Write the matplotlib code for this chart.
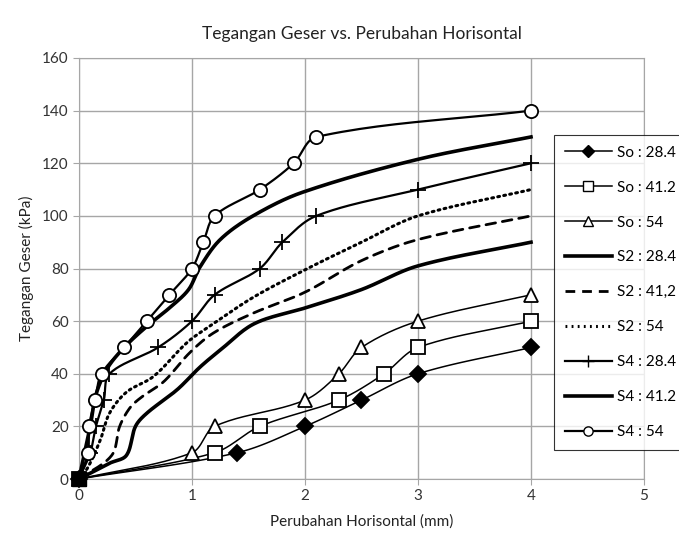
import matplotlib
matplotlib.use("Agg")
import matplotlib.pyplot as plt
import numpy as np

plt.rcParams['font.family'] = ['Lato', 'DejaVu Sans']

# --- data (x in mm, y in kPa) ---
so_284_x = [0, 1.4, 2.0, 2.5, 3.0, 4.0]
so_284_y = [0, 10, 20, 30, 40, 50]

so_412_x = [0, 1.2, 1.6, 2.3, 2.7, 3.0, 4.0]
so_412_y = [0, 10, 20, 30, 40, 50, 60]

so_54_x = [0, 1.0, 1.2, 2.0, 2.3, 2.5, 3.0, 4.0]
so_54_y = [0, 10, 20, 30, 40, 50, 60, 70]

s2_284_x = [0, 0.27, 0.42, 0.5, 0.6, 0.87, 1.07, 1.25, 1.55, 2.0, 2.5, 3.0, 4.0]
s2_284_y = [0, 6, 9, 20, 25, 34, 42.5, 49, 59, 65, 72, 81, 90]

s2_412_x = [0, 0.29, 0.36, 0.45, 0.55, 0.75, 0.98, 1.19, 1.54, 2.0, 2.5, 3.0, 4.0]
s2_412_y = [0, 9, 20, 27, 31, 37, 48, 55.5, 63, 71, 83, 91, 100]

s2_54_x = [0, 0.08, 0.19, 0.27, 0.42, 0.66, 0.96, 1.19, 1.54, 2.0, 2.5, 3.0, 4.0]
s2_54_y = [0, 4.5, 15, 25, 33, 39, 52, 59, 69, 79.5, 90, 100, 110]

s4_284_x = [0, 0.1, 0.15, 0.22, 0.27, 0.7, 1.0, 1.2, 1.6, 1.8, 2.1, 3.0, 4.0]
s4_284_y = [0, 10, 20, 30, 40, 50, 60, 70, 80, 90, 100, 110, 120]

s4_412_x = [0, 0.1, 0.15, 0.25, 0.4, 0.6, 0.8, 0.97, 1.07, 1.25, 1.54, 1.98, 3.0, 4.0]
s4_412_y = [0, 20, 32, 42, 50, 58, 65, 72, 80.5, 91, 100, 109, 121.5, 130]

s4_54_x = [0, 0.08, 0.09, 0.14, 0.2, 0.4, 0.6, 0.8, 1.0, 1.1, 1.2, 1.6, 1.9, 2.1, 4.0]
s4_54_y = [0, 10, 20, 30, 40, 50, 60, 70, 80, 90, 100, 110, 120, 130, 140]

x_ticks = [0, 1, 2, 3, 4, 5]
y_ticks = [0, 20, 40, 60, 80, 100, 120, 140, 160]


def smooth(x, y, n=24, sx=113.0, sy=2.63):
    # smoothed line through the points (Excel-like), tangents scaled by
    # segment length so short segments next to long ones don't loop
    p = np.column_stack([np.asarray(x, float) * sx, np.asarray(y, float) * sy])
    k = len(p)
    seg = np.linalg.norm(np.diff(p, axis=0), axis=1)
    out = []
    for i in range(k - 1):
        p1, p2 = p[i], p[i + 1]
        L = seg[i]
        if i > 0:
            m1 = (p2 - p[i - 1]) * L / (seg[i - 1] + L)
        else:
            m1 = p2 - p1
        if i < k - 2:
            m2 = (p[i + 2] - p1) * L / (L + seg[i + 1])
        else:
            m2 = p2 - p1
        t = np.linspace(0, 1, n, endpoint=False)[:, None]
        h00 = 2 * t**3 - 3 * t**2 + 1
        h10 = t**3 - 2 * t**2 + t
        h01 = -2 * t**3 + 3 * t**2
        h11 = t**3 - t**2
        out.append(h00 * p1 + h10 * m1 + h01 * p2 + h11 * m2)
    out.append(p[-1][None, :])
    out = np.vstack(out)
    return out[:, 0] / sx, out[:, 1] / sy


fig = plt.figure(figsize=(6.79, 5.42), dpi=100)
ax = fig.add_axes([0.1163, 0.1162, 0.8322, 0.7768])

series = [
    (so_284_x, so_284_y, 'So : 28.4', dict(lw=1.1, ls='-', marker='D', ms=8.5, mfc='black')),
    (so_412_x, so_412_y, 'So : 41.2', dict(lw=1.1, ls='-', marker='s', ms=9.5, mfc='white')),
    (so_54_x, so_54_y, 'So : 54', dict(lw=1.1, ls='-', marker='^', ms=10, mfc='white')),
    (s2_284_x, s2_284_y, 'S2 : 28.4', dict(lw=2.6, ls='-')),
    (s2_412_x, s2_412_y, 'S2 : 41,2', dict(lw=2.0, ls=(0, (3.5, 2.5)))),
    (s2_54_x, s2_54_y, 'S2 : 54', dict(lw=2.2, ls=(0, (0.6, 1.4)))),
    (s4_284_x, s4_284_y, 'S4 : 28.4', dict(lw=1.6, ls='-', marker='+', ms=12, mew=1.3)),
    (s4_412_x, s4_412_y, 'S4 : 41.2', dict(lw=2.6, ls='-')),
    (s4_54_x, s4_54_y, 'S4 : 54', dict(lw=1.6, ls='-', marker='o', ms=9.5, mfc='white')),
]

handles = []
for x, y, label, st in series:
    sx, sy = smooth(x, y)
    ax.plot(sx, sy, color='black', lw=st['lw'], ls=st['ls'], zorder=3,
            dash_capstyle='round' if st['ls'] != '-' else 'butt')
    mk = st.get('marker')
    if mk:
        ax.plot(x, y, ls='none', marker=mk, ms=st['ms'], mfc=st.get('mfc', 'black'),
                mec='black', mew=st.get('mew', 1.3), zorder=4, clip_on=False)
    h, = ax.plot([], [], color='black', lw=st['lw'], ls=st['ls'], marker=mk,
                 ms=st.get('ms', 0) * 0.7, mfc=st.get('mfc', 'black'), mec='black',
                 mew=1.0, label=label)
    handles.append(h)

# all the markers pile up at the shared origin and look like one black block
ax.plot(so_412_x[:1], so_412_y[:1], ls='none', marker='s', ms=10, color='black',
        zorder=5, clip_on=False)

ax.set_xlim(0, 5)
ax.set_ylim(0, 160)
ax.set_xticks(x_ticks)
ax.set_yticks(y_ticks)
ax.grid(True, color='#a6a6a6', lw=1.0)
ax.set_axisbelow(True)
for s in ax.spines.values():
    s.set_color('#a6a6a6')
ax.tick_params(axis='both', labelsize=11, color='#a6a6a6', length=4, labelcolor='#333333')

ax.set_title('Tegangan Geser vs. Perubahan Horisontal', fontsize=12.5, pad=14, color='#222222')
ax.set_xlabel('Perubahan Horisontal (mm)', fontsize=11, labelpad=8, color='#222222')
ax.set_ylabel('Tegangan Geser (kPa)', fontsize=11, labelpad=6, color='#222222')

leg = fig.legend(handles=handles, loc='upper left', bbox_to_anchor=(0.816, 0.751),
                 fontsize=11, frameon=True, fancybox=False, edgecolor='black',
                 handlelength=3.1, labelspacing=1.37, borderpad=0.7, numpoints=1,
                 handletextpad=0.3, borderaxespad=0)
leg.get_frame().set_linewidth(0.8)

fig.savefig('out.png', dpi=100)
